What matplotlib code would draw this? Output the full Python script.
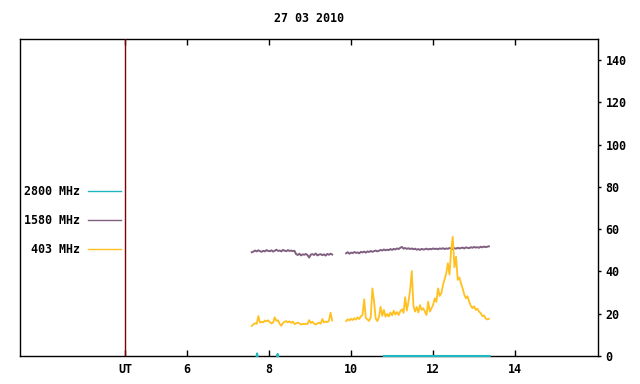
import numpy as np
import matplotlib.pyplot as plt
import matplotlib as mpl

plt.rcParams["font.family"] = "DejaVu Sans Mono"
plt.rcParams["font.weight"] = "bold"
fontsize = 8.4
mpl.rcParams['font.size'] = fontsize
mpl.rcParams['xtick.labelsize'] = fontsize
mpl.rcParams['ytick.labelsize'] = fontsize
mpl.rcParams['legend.fontsize'] = fontsize

# sample times (UT hours) of the two recording stretches
t_seg1 = np.round(np.arange(7.58, 9.56, 0.04), 2)
t_seg2 = np.round(np.arange(9.88, 13.38, 0.04), 2)

f403_seg1 = [14.2, 15.0, 15.5, 15.2, 18.9, 15.8, 16.2, 15.9, 16.8, 16.4,
             16.9, 16.0, 15.4, 15.8, 18.3, 16.6, 16.9, 15.2, 14.3, 15.6,
             16.2, 16.5, 15.9, 16.4, 15.7, 16.3, 15.1, 15.4, 15.8, 15.5,
             14.9, 15.2, 15.0, 15.3, 15.1, 17.0, 15.6, 16.2, 15.3, 14.9,
             15.4, 15.8, 15.3, 17.5, 15.9, 16.3, 16.0, 16.6, 20.5, 16.8]
f403_seg2 = [16.5, 17.4, 16.8, 17.6, 17.0, 17.9, 17.2, 18.3, 17.5, 18.8,
             19.4, 26.8, 18.0, 17.3, 16.6, 18.2, 32.0, 26.0, 17.8, 16.5,
             18.4, 23.3, 19.0, 21.8, 18.6, 19.9, 18.7, 20.6, 19.2, 21.4,
             19.6, 20.8, 19.4, 21.2, 22.1, 20.4, 27.8, 21.5, 25.7, 31.2,
             40.2, 24.0, 21.0, 23.2, 20.6, 24.1, 21.8, 22.6, 21.0, 19.4,
             25.7, 21.0, 22.5, 24.1, 27.3, 25.6, 32.0, 28.4, 29.6, 33.5,
             36.3, 39.1, 43.9, 38.5, 50.2, 56.4, 42.0, 47.0, 36.0, 37.2,
             34.4, 32.0, 29.1, 27.3, 28.3, 25.7, 23.8, 22.6, 23.5, 21.8,
             22.4, 21.0, 20.3, 18.9, 19.2, 17.8, 17.3, 17.6]

f1580_seg1 = [49.1, 49.4, 49.9, 49.5, 50.0, 49.6, 49.3, 49.8, 49.5, 50.1,
              49.7, 49.6, 50.0, 49.4, 49.8, 50.3, 49.7, 49.9, 49.5, 50.2,
              49.8, 49.6, 50.1, 49.7, 49.9, 49.6, 49.8, 48.2, 47.8, 48.4,
              47.6, 48.1, 47.9, 48.3, 47.7, 46.6, 48.0, 48.2, 47.8, 48.5,
              47.6, 48.0, 48.2, 47.7, 48.1, 47.5, 48.3, 47.9, 48.4, 48.0]
f1580_seg2 = [48.6, 49.1, 48.4, 48.9, 48.7, 49.2, 48.8, 49.0, 48.6, 49.3,
              49.0, 49.4, 48.9, 49.5, 49.2, 49.7, 49.3, 49.6, 49.9, 49.5,
              49.8, 50.2, 49.9, 50.4, 50.0, 50.3, 50.1, 50.6, 50.2, 50.7,
              50.4, 50.9, 50.6, 51.2, 51.6, 50.8, 51.1, 50.7, 51.0, 50.6,
              50.9, 50.5, 50.8, 50.3, 50.6, 50.2, 50.7, 50.4, 50.5, 50.8,
              50.4, 50.7, 50.5, 50.9, 50.6, 50.8, 50.5, 50.9, 50.7, 51.0,
              50.6, 50.9, 50.7, 51.1, 50.8, 50.6, 51.0, 50.8, 51.2, 50.9,
              51.1, 51.3, 50.9, 51.4, 51.2, 51.0, 51.5, 51.2, 51.6, 51.3,
              51.5, 51.2, 51.7, 51.4, 51.8, 51.5, 51.7, 51.9]

t2800 = [7.70, 7.71, 7.72, np.nan, 8.20, 8.21, 8.22, np.nan, 10.80, 13.38]
f2800 = [0, 1.2, 0, np.nan, 0, 1.0, 0, np.nan, 0, 0]

labels = ["2800 MHz", "1580 MHz", "403 MHz"]
colors = ["#20b8c0", "#806080", "#ffc020"]
xticks = [4.5, 6, 8, 10, 12, 14]
xticklabels = ["UT", "6", "8", "10", "12", "14"]
yticks = [0, 20, 40, 60, 80, 100, 120, 140]

f = plt.figure(figsize=(6.4, 3.84), dpi=100)
ax = f.add_axes([20/640, 28/384, 578/640, 317/384])

nan = [np.nan]
t_all = np.concatenate([t_seg1, nan, t_seg2])
l2800, = ax.plot(t2800, f2800, color=colors[0], lw=1.5, clip_on=False, zorder=5)
l1580, = ax.plot(t_all, f1580_seg1 + nan + f1580_seg2, color=colors[1], lw=1.4)
l403, = ax.plot(t_all, f403_seg1 + nan + f403_seg2, color=colors[2], lw=1.3)

ax.axvline(x=4.5, color="#800000", linewidth=1.0, zorder=4)

ax.set_xlim(1.93, 16.02)
ax.set_ylim(0, 150)
ax.set_xticks(xticks)
ax.set_xticklabels(xticklabels)
ax.set_yticks(yticks)
ax.yaxis.tick_right()
ax.xaxis.set_ticks_position('both')
ax.tick_params(axis='x', direction='in', length=4, width=1, pad=5)
ax.tick_params(axis='y', direction='out', length=2.5, width=1, pad=3)
for s in ax.spines.values():
    s.set_linewidth(1.0)

ax.set_title("27 03 2010", fontsize=fontsize, fontweight="bold", pad=12.5)

leg = ax.legend([l2800, l1580, l403], labels, loc="center right",
                bbox_to_anchor=(101/578, 135.5/317), frameon=False,
                markerfirst=False, handlelength=2.85, handletextpad=0.7,
                labelspacing=1.35, borderpad=0, borderaxespad=0)
for h in leg.get_lines():
    h.set_linewidth(1.0)

plt.savefig("out.png", dpi=100)
